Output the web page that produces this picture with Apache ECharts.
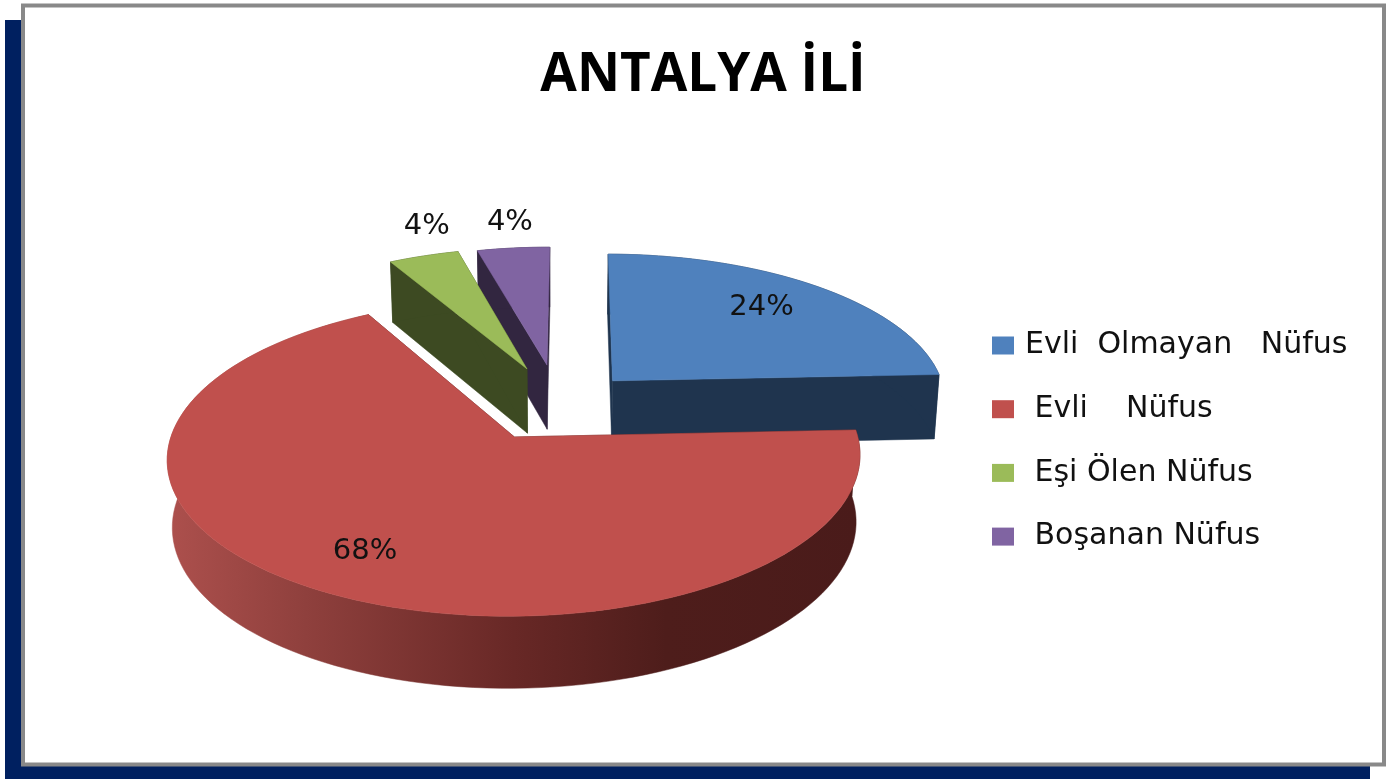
<!DOCTYPE html>
<html>
<head>
<meta charset="utf-8">
<style>html,body{margin:0;padding:0;background:#fff}#c{width:1397px;height:779px}</style>
<script src="https://cdn.jsdelivr.net/npm/echarts@6/dist/echarts.min.js"></script>
</head>
<body>
<div id="c"></div>
<script>
const titleText = 'ANTALYA İLİ';
const categories = ['Evli  Olmayan   Nüfus', 'Evli    Nüfus', 'Eşi Ölen Nüfus', 'Boşanan Nüfus'];
const values = [24.2, 67.6, 4.0, 4.2];
const topColors = ['#4f81bd', '#c0504d', '#9bbb59', '#8064a2'];
const cutColors = ['#1f344e', '#4f1e1c', '#3d4a22', '#322640'];

// view of the tilted pie
const VIEW = {cx: 560, cy: 405, a: 336, b: 148.6, k: 0.127, depth: 65.5, depthK: 0.076, taper: 0.013, start: 0.3};
const sliceExplode = [0.23, 0.245, 0.27, 0.27];
const sliceNudge = [[0, 0], [-0.013, -0.005], [0, 0], [-0.006, -0.01]];
const sliceRadius = [1, 0.995, 0.97, 0.95];
const labelRadius = [0.71, 0.8, 1.16, 1.16];
const labelShift = [[0, -5], [3, -6], [21, -10], [3, -3]];
const total = values.reduce((s, v) => s + v, 0);
const rad = d => d * Math.PI / 180;
const sliceAngles = [];
values.reduce((from, v) => { const to = from + v / total * 360; sliceAngles.push([from, to]); return to; }, VIEW.start);

function project(X, Z, h) {
  const w = 1 - VIEW.k * Z;
  return [
    VIEW.cx + VIEW.a * X / w * (1 - VIEW.taper * h),
    VIEW.cy + VIEW.b * Z / w + h * VIEW.depth / (1 - VIEW.depthK * Z)
  ];
}
function wedgePoint(i, deg, r, h) {
  const [from, to] = sliceAngles[i];
  const mid = rad((from + to) / 2), t = rad(deg), e = sliceExplode[i], nudge = sliceNudge[i];
  return project(e * Math.sin(mid) + nudge[0] + r * Math.sin(t), -e * Math.cos(mid) + nudge[1] - r * Math.cos(t), h);
}
function renderSlice(i) {
  const [from, to] = sliceAngles[i];
  const R = sliceRadius[i];
  const arc = [];
  const n = Math.max(6, Math.ceil((to - from) / 2));
  for (let j = 0; j <= n; j++) arc.push(from + (to - from) * j / n);
  const apex0 = wedgePoint(i, from, 0, 0), apex1 = wedgePoint(i, from, 0, 1);
  const top = [apex0].concat(arc.map(d => wedgePoint(i, d, R, 0)));
  const wall = arc.map(d => wedgePoint(i, d, R, 0)).concat(arc.slice().reverse().map(d => wedgePoint(i, d, R, 1)));
  const cut = d => [apex0, wedgePoint(i, d, R, 0), wedgePoint(i, d, R, 1), apex1];
  const wallFill = i === 1
    ? new echarts.graphic.LinearGradient(0, 0, 1, 0, [
        {offset: 0, color: '#ad504d'}, {offset: 0.2, color: '#8f403d'},
        {offset: 0.5, color: '#682826'}, {offset: 0.72, color: '#4e1d1b'}, {offset: 1, color: '#4a1b1a'}])
    : cutColors[i];
  const poly = (points, fill) => ({type: 'polygon', shape: {points}, style: {fill, stroke: fill, lineWidth: 0.5}});
  const lp = wedgePoint(i, (from + to) / 2, labelRadius[i], 0);
  return {
    type: 'group',
    children: [
      poly(cut(from), cutColors[i]),
      poly(cut(to), cutColors[i]),
      poly(wall, wallFill),
      poly(top, topColors[i]),
      {type: 'text', z2: 10, style: {
        text: Math.round(values[i] / total * 100) + '%', x: lp[0] + labelShift[i][0], y: lp[1] + labelShift[i][1],
        fill: '#111', font: '29px "DejaVu Sans"', align: 'center', verticalAlign: 'middle'}}
    ]
  };
}
// drawn back to front
const drawOrder = [0, 3, 2, 1];
const legendOrder = [0, 1, 2, 3];
const option = {
  animation: false,
  backgroundColor: '#fff',
  title: {
    text: titleText, left: 698, top: 44, textAlign: 'center',
    textStyle: {fontFamily: '"Open Sans"', fontWeight: 'bold', fontSize: 53, color: '#000'}
  },
  legend: {
    orient: 'vertical', left: 987, top: 320.5, icon: 'rect',
    itemWidth: 22, itemHeight: 18, itemGap: 23.7,
    data: legendOrder.map(i => categories[i]),
    formatter: name => (name === categories[0] ? '' : ' ') + name,
    textStyle: {fontFamily: '"DejaVu Sans"', fontSize: 30, color: '#111', lineHeight: 40, padding: [0, 0, 0, 6]}
  },
  graphic: [
    {type: 'rect', shape: {x: 5, y: 20, width: 1365, height: 759}, style: {fill: '#002060'}, z: 0},
    {type: 'rect', shape: {x: 23, y: 5.5, width: 1361, height: 759}, style: {fill: '#fff', stroke: '#898989', lineWidth: 4}, z: 1}
  ],
  series: drawOrder.map(i => ({
    type: 'custom', name: categories[i], coordinateSystem: 'none', z: 3 + drawOrder.indexOf(i),
    itemStyle: {color: topColors[i]},
    data: [{name: categories[i], value: values[i]}],
    renderItem: () => renderSlice(i)
  }))
};
echarts.init(document.getElementById('c')).setOption(option);
</script>
</body>
</html>
